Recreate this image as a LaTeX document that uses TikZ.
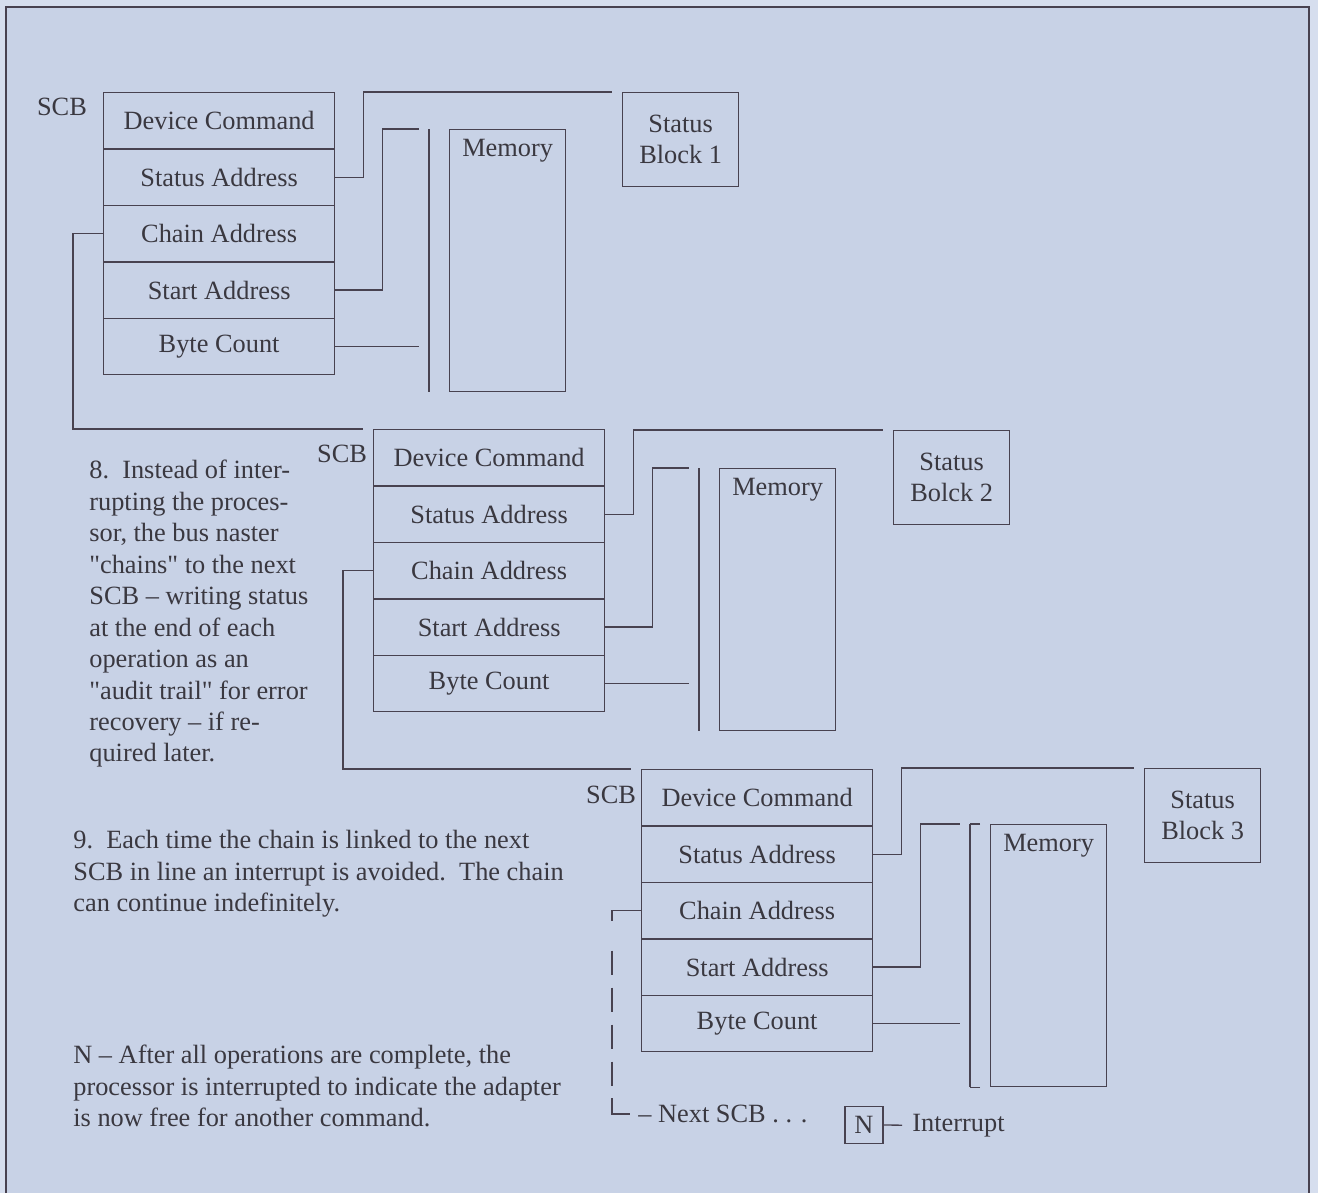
\documentclass[tikz,border=0pt]{standalone}
\usepackage{fontspec}
\setmainfont{Liberation Serif}[Ligatures=TeXOff]
\usetikzlibrary{positioning}

\definecolor{paper}{RGB}{200,210,230}
\definecolor{margin}{RGB}{214,222,238}
\definecolor{ink}{RGB}{72,66,80}
\definecolor{txt}{RGB}{58,56,64}

\tikzset{
  wire/.style={draw=ink,line width=0.75pt},
  field/.style={draw=ink,line width=0.75pt,minimum width=4.62cm,minimum height=1.128cm,
    inner sep=0pt,anchor=north west,text=txt},
  statbox/.style={draw=ink,line width=0.75pt,minimum width=2.32cm,minimum height=1.88cm,
    inner sep=0pt,anchor=north west,align=center,text=txt},
  membox/.style={draw=ink,line width=0.75pt,minimum width=2.32cm,minimum height=5.24cm,
    inner sep=0pt,anchor=north west},
  note/.style={anchor=north west,inner sep=0pt,align=left,text=txt},
}

\begin{document}
\begin{tikzpicture}[x=0.02cm,y=-0.02cm,font=\fontsize{15}{17.9}\selectfont]
  \useasboundingbox (0,0) rectangle (1318,1193);
  \fill[margin] (0,0) rectangle (1318,1193);
  \fill[paper] (6,7) rectangle (1309,1193);
  \draw[draw=ink,line width=1.2pt] (6,1193) -- (6,7) -- (1309,7) -- (1309,1193);

  % three SCBs: index / SCB corner / status block / spelling / memory / SCB label
  \foreach \i/\x/\y/\sx/\sy/\blk/\mx/\my/\lx/\ly in
      {1/103/92/622/92/Block/449/129/62/107,
       2/373/429/893/430/Bolck/719/468/342/454,
       3/641/769/1144/768/Block/990/824/611/795}{
    \foreach \f/\t [count=\k from 0] in
        {dc/Device Command,sa/Status Address,ca/Chain Address,st/Start Address,bc/Byte Count}{
      \node[field] (\f\i) at ({\x},{\y+56.4*\k}) {\t};
    }
    \node[text=txt,inner sep=0pt] (lbl\i) at (\lx,\ly) {SCB};
    \node[statbox] (sb\i) at (\sx,\sy) {Status\\\blk\ \i};
    \node[membox] (mem\i) at (\mx,\my) {};
    \node[text=txt,anchor=north,inner sep=0pt] at ([yshift=-0.2cm]mem\i.north) {Memory};
    \coordinate (bt\i) at ([xshift=-0.4cm]mem\i.north west);
    \coordinate (bb\i) at ([xshift=-0.4cm]mem\i.south west);
    \coordinate (lt\i) at ([xshift=-0.6cm]mem\i.north west);
    % status, start and count wires
    \draw[wire] (sa\i.east) -- ++(28,0) |- ([xshift=-0.2cm]sb\i.north west);
    \draw[wire] (st\i.east) -- ++(47,0) |- (lt\i);
    \draw[wire] (bc\i.east) -- (bc\i.east -| lt\i);
    \draw[wire] (bt\i) -- (bb\i);
  }
  \draw[wire] ([xshift=0.2cm]bt3) -- (bt3);
  \draw[wire] ([xshift=0.2cm]bb3) -- (bb3);

  % chaining
  \draw[wire] (ca1.west) -- ++(-30,0) |- ([xshift=-0.2cm]dc2.north west);
  \draw[wire] (ca2.west) -- ++(-30,0) |- ([xshift=-0.2cm]dc3.north west);
  \node[text=txt,anchor=west,inner xsep=0.16cm,inner ysep=0pt] (nxt) at (630,1114) {– Next SCB . . .};
  \draw[wire] (ca3.west) -- ++(-29,0) coordinate (ct) -- ++(0,10);
  \coordinate (cb) at (ct |- nxt.west);
  \draw[wire,dash pattern=on 0.48cm off 0.26cm] ([yshift=-0.8cm]ct) -- ([yshift=0.32cm]cb);
  \draw[wire] ([yshift=0.32cm]cb) -- (cb) -- (nxt.west);

  % interrupt legend
  \node[draw=ink,line width=0.75pt,minimum width=0.76cm,minimum height=0.74cm,inner sep=0pt,text=txt] (intn) at (864,1125) {N};
  \node[text=txt,anchor=base west,inner xsep=0.2cm,inner ysep=0pt] (intr) at (902,1131) {Interrupt};
  \draw[wire] (intn.east) -- (intr.west);

  % notes
  \node[note] (step8) at (89,460) {8.\ \ Instead of inter-\\rupting the proces-\\sor, the bus naster\\"chains" to the next\\SCB – writing status\\at the end of each\\operation as an\\"audit trail" for error\\recovery – if re-\\quired later.};
  \node[note] (step9) at (73,830) {9.\ \ Each time the chain is linked to the next\\SCB in line an interrupt is avoided.\ \ The chain\\can continue indefinitely.};
  \node[note] (stepn) at (73,1045) {N – After all operations are complete, the\\processor is interrupted to indicate the adapter\\is now free for another command.};
\end{tikzpicture}
\end{document}
